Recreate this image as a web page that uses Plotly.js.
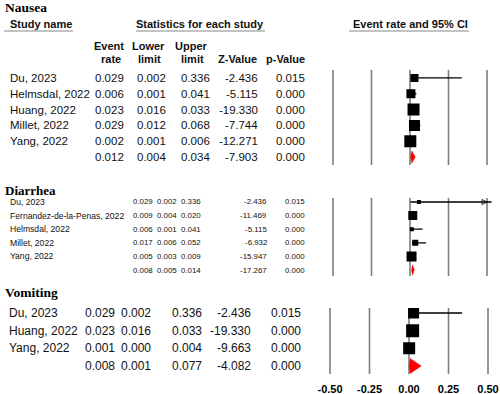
<!DOCTYPE html>
<html>
<head>
<meta charset="utf-8">
<script src="https://cdn.plot.ly/plotly-3.0.1.min.js"></script>
<style>html,body{margin:0;padding:0;background:#fff;}#chart{width:500px;height:394px;}</style>
</head>
<body>
<div id="chart"></div>
<script>
// ---------------- DATA ----------------
const nauseaStudies = ['Du, 2023', 'Helmsdal, 2022', 'Huang, 2022', 'Millet, 2022', 'Yang, 2022'];
const nauseaRate  = [0.029, 0.006, 0.023, 0.029, 0.002];
const nauseaLower = [0.002, 0.001, 0.016, 0.012, 0.001];
const nauseaUpper = [0.336, 0.041, 0.033, 0.068, 0.006];
const nauseaZ     = [-2.436, -5.115, -19.330, -7.744, -12.271];
const nauseaP     = [0.015, 0.000, 0.000, 0.000, 0.000];
const nauseaPooled = [0.012, 0.004, 0.034, -7.903, 0.000]; // rate, lower, upper, z, p

const diarrheaStudies = ['Du, 2023', 'Fernandez-de-la-Penas, 2022', 'Helmsdal, 2022', 'Millet, 2022', 'Yang, 2022'];
const diarrheaRate  = [0.029, 0.009, 0.006, 0.017, 0.005];
const diarrheaLower = [0.002, 0.004, 0.001, 0.006, 0.003];
const diarrheaUpper = [0.336, 0.020, 0.041, 0.052, 0.009];
const diarrheaZ     = [-2.436, -11.469, -5.115, -6.932, -15.947];
const diarrheaP     = [0.015, 0.000, 0.000, 0.000, 0.000];
const diarrheaPooled = [0.008, 0.005, 0.014, -17.267, 0.000];

const vomitingStudies = ['Du, 2023', 'Huang, 2022', 'Yang, 2022'];
const vomitingRate  = [0.029, 0.023, 0.001];
const vomitingLower = [0.002, 0.016, 0.000];
const vomitingUpper = [0.336, 0.033, 0.004];
const vomitingZ     = [-2.436, -19.330, -9.663];
const vomitingP     = [0.015, 0.000, 0.000];
const vomitingPooled = [0.008, 0.001, 0.077, -4.082, 0.000];

const tickValsWide = [-0.5, -0.25, 0, 0.25, 0.5];
const tickValsNarrow = [-0.25, -0.125, 0, 0.125, 0.25];
const tickLabels = ['-0.50', '-0.25', '0.00', '0.25', '0.50'];

// ---------------- STYLE ----------------
const SANS = 'Liberation Sans, Arial, sans-serif';
const SERIF = 'Liberation Serif, Times New Roman, serif';
const W = 500, H = 394;
const px = v => v / W;
const py = v => 1 - v / H;

const panels = [
  { name: 'Nausea', studies: nauseaStudies, rate: nauseaRate, lo: nauseaLower, hi: nauseaUpper, z: nauseaZ, p: nauseaP, pooled: nauseaPooled,
    xa: 'x', ya: 'y', xr: [-0.5, 0.5], tv: tickValsWide, boxes: [8, 9, 12, 11, 12], dh: 0.38,
    font: 11.5, numSize: 11.5, cols: [126, 168, 212, 260, 307], nameX: 8, titleY: 8, titleSize: 13.5,
    pxX: [333, 487], pxY: [70, 165], yr: [5.5, -0.5] },
  { name: 'Diarrhea', studies: diarrheaStudies, rate: diarrheaRate, lo: diarrheaLower, hi: diarrheaUpper, z: diarrheaZ, p: diarrheaP, pooled: diarrheaPooled,
    xa: 'x2', ya: 'y2', xr: [-0.25, 0.25], tv: tickValsNarrow, boxes: [4, 9, 4, 6, 10], dh: 0.37,
    font: 8.6, numSize: 7.9, cols: [155, 179, 203, 269, 307], nameX: 8, titleY: 190, titleSize: 13,
    pxX: [333, 487], pxY: [198, 276], yr: [5.44, -0.294] },
  { name: 'Vomiting', studies: vomitingStudies, rate: vomitingRate, lo: vomitingLower, hi: vomitingUpper, z: vomitingZ, p: vomitingP, pooled: vomitingPooled,
    xa: 'x3', ya: 'y3', xr: [-0.5, 0.5], tv: tickValsWide, boxes: [11, 13, 12], dh: 0.42,
    font: 12, numSize: 12, cols: [117, 153, 204, 253, 303], nameX: 7, titleY: 292, titleSize: 13.5,
    pxX: [330, 488], pxY: [308, 374], yr: [3.453, -0.283] }
];

const traces = [];
const annotations = [];
const shapes = [];

panels.forEach(P => {
  const rows = P.studies.map((_, i) => i);
  const pr = P.studies.length;

  // vertical reference lines at the tick values, drawn as a line trace spanning the y range
  const gx = [], gy = [];
  P.tv.forEach(v => { gx.push(v, v, null); gy.push(P.yr[0], P.yr[1], null); });
  traces.push({ type: 'scatter', mode: 'lines', xaxis: P.xa, yaxis: P.ya, x: gx, y: gy, connectgaps: false,
    line: { color: '#7d7d7d', width: 1.6 }, hoverinfo: 'skip', showlegend: false });

  traces.push({
    type: 'scatter', mode: 'markers', xaxis: P.xa, yaxis: P.ya,
    x: P.rate, y: rows,
    marker: { symbol: 'square', size: P.boxes, color: '#000', opacity: 1, line: { width: 0 } },
    error_x: { type: 'data', symmetric: false,
      array: P.hi.map((h, i) => h - P.rate[i]),
      arrayminus: P.lo.map((l, i) => P.rate[i] - l),
      width: 0, thickness: 1.3, color: '#000' },
    hoverinfo: 'skip', showlegend: false
  });
  const ax = [], ay = [];
  P.hi.forEach((h, i) => { if (h > P.xr[1]) { ax.push(P.xr[1]); ay.push(i); } });
  if (ax.length) {
    traces.push({ type: 'scatter', mode: 'markers', xaxis: P.xa, yaxis: P.ya, x: ax, y: ay, cliponaxis: false,
      marker: { symbol: 'arrow-right-open', size: 5, color: '#000', opacity: 1, line: { width: 0.8, color: '#000' } },
      hoverinfo: 'skip', showlegend: false });
  }
  const [pe, pl, pu] = P.pooled;
  traces.push({
    type: 'scatter', mode: 'lines', xaxis: P.xa, yaxis: P.ya, fill: 'toself',
    x: [pl, pe, pu, pe, pl], y: [pr, pr - P.dh, pr, pr + P.dh, pr],
    line: { color: '#ff0000', width: 0.5 }, fillcolor: '#ff0000',
    hoverinfo: 'skip', showlegend: false
  });

  const yref = P.ya;
  const addNum = (txt, col, row) => annotations.push({ xref: 'paper', yref, x: px(col), y: row, text: txt,
    showarrow: false, xanchor: 'right', yanchor: 'middle', font: { family: SANS, size: P.numSize, color: '#111' } });
  P.studies.forEach((s, i) => {
    annotations.push({ xref: 'paper', yref, x: px(P.nameX), y: i, text: s, showarrow: false,
      xanchor: 'left', yanchor: 'middle', font: { family: SANS, size: P.font, color: '#111' } });
    addNum(P.rate[i].toFixed(3), P.cols[0], i);
    addNum(P.lo[i].toFixed(3), P.cols[1], i);
    addNum(P.hi[i].toFixed(3), P.cols[2], i);
    addNum(P.z[i].toFixed(3), P.cols[3], i);
    addNum(P.p[i].toFixed(3), P.cols[4], i);
  });
  P.pooled.forEach((v, k) => addNum(v.toFixed(3), P.cols[k], pr));

  annotations.push({ xref: 'paper', yref: 'paper', x: px(3), y: py(P.titleY), text: '<b>' + P.name + '</b>',
    showarrow: false, xanchor: 'left', yanchor: 'middle', font: { family: SERIF, size: P.titleSize, color: '#000' } });
});

const hdr = (t, x, y, anchor) => annotations.push({ xref: 'paper', yref: 'paper', x: px(x), y: py(y), text: '<b>' + t + '</b>',
  showarrow: false, xanchor: anchor || 'center', yanchor: 'middle', font: { family: SANS, size: 11, color: '#111' } });
hdr('Study name', 8, 24, 'left');
hdr('Statistics for each study', 200, 24);
hdr('Event rate and 95% CI', 410, 24);
hdr('Event', 109, 46); hdr('rate', 111, 59);
hdr('Lower', 148, 46); hdr('limit', 149, 59);
hdr('Upper', 191, 46); hdr('limit', 192, 59);
hdr('Z-Value', 237, 59);
hdr('p-Value', 285, 59);
[[4, 73], [136, 265], [349, 469]].forEach(([a, b]) => shapes.push({ type: 'line', xref: 'paper', yref: 'paper',
  x0: px(a), x1: px(b), y0: py(31), y1: py(31), line: { color: '#888', width: 1 } }));

// pad each x axis a little beyond its end ticks (same pixel mapping) so edge lines are not clipped
const makeX = (P, labels, anchor) => {
  const span = P.xr[1] - P.xr[0];
  const pad = span * 0.03;
  const ppu = (P.pxX[1] - P.pxX[0]) / span;
  return {
    domain: [px(P.pxX[0] - pad * ppu), px(P.pxX[1] + pad * ppu)],
    range: [P.xr[0] - pad, P.xr[1] + pad], anchor,
    tickmode: 'array', tickvals: P.tv, ticktext: tickLabels,
    showticklabels: labels, ticks: '', showgrid: false, zeroline: false, showline: false, fixedrange: true,
    tickfont: { family: SANS, size: 11, color: '#000', weight: 'bold' }, ticklabelstandoff: 7
  };
};
const makeY = (P, anchor) => ({ domain: [py(P.pxY[1]), py(P.pxY[0])], range: P.yr, visible: false, fixedrange: true, anchor });

const layout = {
  width: W, height: H, margin: { l: 0, r: 0, t: 0, b: 0 },
  paper_bgcolor: '#fff', plot_bgcolor: 'rgba(0,0,0,0)', showlegend: false,
  xaxis: makeX(panels[0], false, 'y'),  yaxis: makeY(panels[0], 'x'),
  xaxis2: makeX(panels[1], false, 'y2'), yaxis2: makeY(panels[1], 'x2'),
  xaxis3: makeX(panels[2], true, 'y3'),  yaxis3: makeY(panels[2], 'x3'),
  annotations, shapes
};

Plotly.newPlot('chart', traces, layout, { staticPlot: true, displayModeBar: false });
</script>
</body>
</html>
